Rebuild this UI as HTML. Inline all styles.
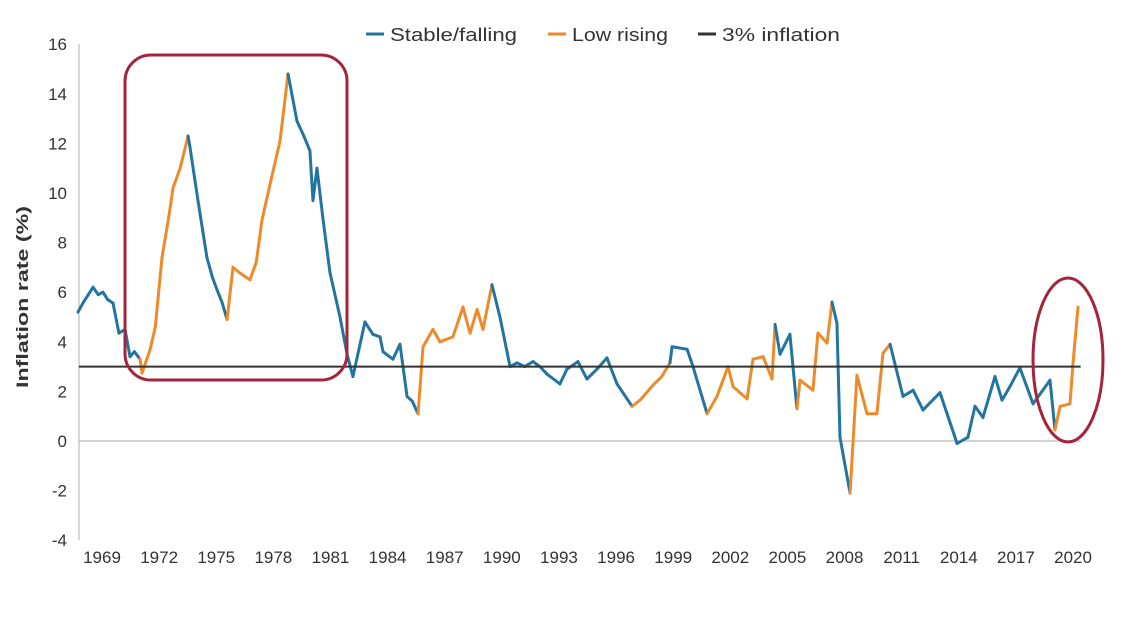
<!DOCTYPE html>
<html><head><meta charset="utf-8"><style>
body{margin:0;background:#fff;width:1136px;height:613px;overflow:hidden;font-family:"Liberation Sans",sans-serif}
svg text{font-family:"Liberation Sans",sans-serif;fill:#333}
</style></head><body>
<svg id="chart" width="1136" height="613" viewBox="0 0 1136 613">
<g>
 <line x1="366" y1="34" x2="384" y2="34" stroke="#23749f" stroke-width="3"/>
 <text x="390" y="41" font-size="18" textLength="127" lengthAdjust="spacingAndGlyphs">Stable/falling</text>
 <line x1="548" y1="34" x2="566" y2="34" stroke="#ee8a2a" stroke-width="3"/>
 <text x="572" y="41" font-size="18" textLength="96" lengthAdjust="spacingAndGlyphs">Low rising</text>
 <line x1="698" y1="34" x2="716" y2="34" stroke="#333" stroke-width="3"/>
 <text x="722" y="41" font-size="18" textLength="118" lengthAdjust="spacingAndGlyphs">3% inflation</text>
</g>
<text transform="translate(28,297) rotate(-90)" text-anchor="middle" font-size="17" font-weight="bold" textLength="182" lengthAdjust="spacingAndGlyphs">Inflation rate (%)</text>
<g id="axes"></g>
<g id="marks"></g>
<rect x="125" y="55" width="222" height="325" rx="26" fill="none" stroke="#a3243b" stroke-width="3"/>
<ellipse cx="1068" cy="360" rx="35" ry="82" fill="none" stroke="#a3243b" stroke-width="3"/>
</svg>
<script>
const yTicks=[16,14,12,10,8,6,4,2,0,-2,-4];
const xTicks=[1969,1972,1975,1978,1981,1984,1987,1990,1993,1996,1999,2002,2005,2008,2011,2014,2017,2020];
const threshold=3;
const dates=[1967.74,1968.0,1968.53,1968.8,1969.05,1969.3,1969.58,1969.89,1970.21,1970.47,1970.7,1971.0,
1971.1,1971.52,1971.8,1972.15,1972.5,1972.73,1973.1,1973.3,1973.52,
1973.62,1974.04,1974.51,1974.8,1975.04,1975.3,1975.57,
1975.88,1976.2,1976.77,1977.1,1977.4,1977.9,1978.35,1978.77,
1979.24,1979.6,1979.92,1980.08,1980.29,1980.6,1980.97,1981.5,1981.87,1982.18,1982.81,1983.23,1983.6,1983.76,1984.28,1984.65,1985.02,1985.3,1985.6,
1985.86,1986.38,1986.75,1987.43,1987.96,1988.33,1988.7,1989.01,1989.48,
1989.9,1990.43,1990.8,1991.2,1991.64,1992.0,1992.37,1993.05,1993.42,1994.0,1994.47,1995.0,1995.52,1996.05,1996.84,
1997.26,1997.94,1998.4,1998.83,
1998.94,1999.73,2000.04,2000.78,
2001.3,2001.88,2002.14,2002.88,2003.19,2003.72,2004.19,2004.35,
2004.61,2005.13,2005.5,
2005.66,2006.34,2006.6,2007.08,2007.34,
2007.6,2007.76,2008.29,
2008.65,2009.18,2009.7,2010.02,2010.39,
2011.07,2011.6,2012.12,2013.01,2013.91,2014.48,2014.85,2015.27,2015.9,2016.27,2016.69,2017.21,2017.9,2018.79,2019.05,
2019.32,2019.84,2020.0,2020.26];
const values=[5.2,5.56,6.2,5.9,6.0,5.7,5.56,4.35,4.5,3.4,3.6,3.3,
2.74,3.67,4.6,7.4,9.0,10.2,11.0,11.6,12.3,
11.85,9.7,7.4,6.6,6.1,5.6,4.9,
7.0,6.8,6.5,7.2,8.9,10.6,12.1,14.8,
12.9,12.3,11.7,9.7,11.0,9.0,6.8,5.0,3.5,2.6,4.8,4.3,4.2,3.6,3.3,3.9,1.8,1.6,1.1,
3.8,4.5,4.0,4.2,5.4,4.35,5.3,4.5,6.3,
5.0,3.0,3.15,3.0,3.2,3.0,2.7,2.3,2.9,3.2,2.5,2.9,3.35,2.3,1.4,
1.65,2.25,2.6,3.15,
3.8,3.7,3.0,1.1,
1.8,3.0,2.2,1.7,3.3,3.4,2.5,4.7,
3.5,4.3,1.3,
2.45,2.05,4.35,3.95,5.6,
4.75,0.15,-2.1,
2.65,1.1,1.1,3.55,3.9,
1.8,2.05,1.25,1.95,-0.1,0.15,1.4,0.95,2.6,1.65,2.2,2.95,1.5,2.45,0.45,
1.4,1.5,3.15,5.4];
const regimes=["b","b","b","b","b","b","b","b","b","b","b","b",
"o","o","o","o","o","o","o","o","o",
"b","b","b","b","b","b","b",
"o","o","o","o","o","o","o","o",
"b","b","b","b","b","b","b","b","b","b","b","b","b","b","b","b","b","b","b",
"o","o","o","o","o","o","o","o","o",
"b","b","b","b","b","b","b","b","b","b","b","b","b","b","b",
"o","o","o","o",
"b","b","b","b",
"o","o","o","o","o","o","o","o",
"b","b","b",
"o","o","o","o","o",
"b","b","b",
"o","o","o","o","o",
"b","b","b","b","b","b","b","b","b","b","b","b","b","b","b",
"o","o","o","o"];
const X=t=>102+(t-1969)*19.04;
const Y=v=>441-v*24.8;
const NS="http://www.w3.org/2000/svg";
const axes=document.getElementById('axes'),marks=document.getElementById('marks');
function mk(tag,attrs,parent){const e=document.createElementNS(NS,tag);for(const k in attrs)e.setAttribute(k,attrs[k]);parent.appendChild(e);return e;}
const x1=X(2020.4);
const ax=mk('line',{x1:79,y1:Y(16),x2:79,y2:Y(-4),stroke:'#bbb','stroke-width':1.2},axes);


const zl=mk('line',{x1:79,y1:Y(0),x2:x1,y2:Y(0),stroke:'#bbb','stroke-width':1.2},axes);


yTicks.forEach(v=>{const t=mk('text',{x:67,y:Y(v)+6,'text-anchor':'end','font-size':17},axes);t.textContent=v;

});
xTicks.forEach(yr=>{const t=mk('text',{x:X(yr),y:563,'text-anchor':'middle','font-size':17},axes);t.textContent=yr;

});
for(let i=1;i<dates.length;i++){
 const s=mk('line',{x1:X(dates[i-1]),y1:Y(values[i-1]),x2:X(dates[i]),y2:Y(values[i]),stroke:regimes[i]==='o'?'#ee8a2a':'#23749f','stroke-width':3,'stroke-linecap':'round'},marks);
 
 
}
const th=mk('line',{x1:79,y1:Y(threshold),x2:x1,y2:Y(threshold),stroke:'#333','stroke-width':2},marks);


</script>
</body></html>
